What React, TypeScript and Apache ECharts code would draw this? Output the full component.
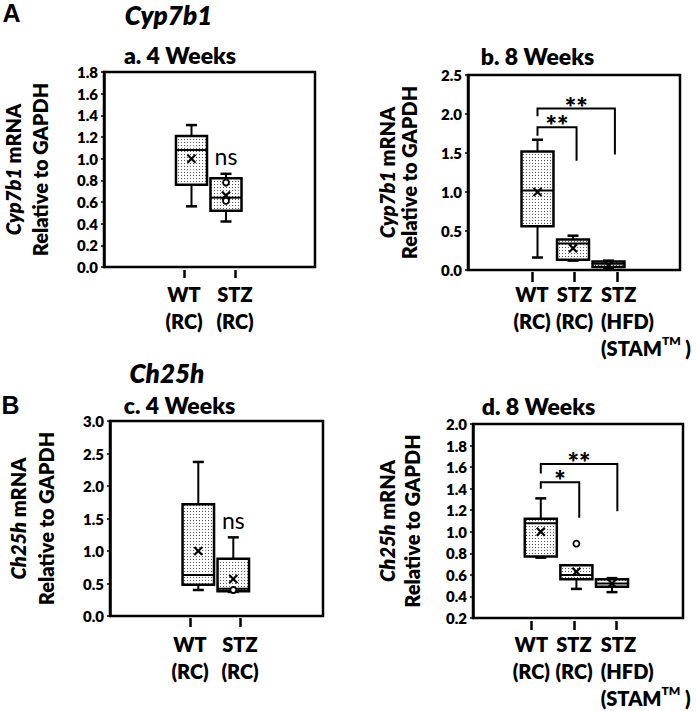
import React, { useEffect, useRef } from 'react';
import * as echarts from 'echarts';

const FONT = 'Lato, "Open Sans", "DejaVu Sans", sans-serif';
const LETTER_FONT = '"Liberation Sans", Arial, sans-serif';
const W = 800;

// ---------- categories (x tick labels, one array per line) ----------
const GROUP_LINES_4WK = [['WT', '(RC)'], ['STZ', '(RC)']];
const GROUP_LINES_8WK = [['WT', '(RC)'], ['STZ', '(RC)'], ['STZ', '(HFD)', '(STAM™ )']];

// ---------- box statistics: [low whisker, Q1, median, Q3, high whisker, mean] ----------
const CYP7B1_4WK_WT = [0.56, 0.76, 1.08, 1.21, 1.31, 1.0];
const CYP7B1_4WK_STZ = [0.42, 0.52, 0.64, 0.82, 0.86, 0.66];
const CYP7B1_8WK_WT = [0.16, 0.56, 1.02, 1.52, 1.67, 1.0];
const CYP7B1_8WK_STZ = [0.12, 0.13, 0.34, 0.39, 0.44, 0.28];
const CYP7B1_8WK_STAM = [0.01, 0.04, 0.08, 0.11, 0.12, 0.06];
const CH25H_4WK_WT = [0.40, 0.48, 0.63, 1.72, 2.37, 1.0];
const CH25H_4WK_STZ = [0.37, 0.38, 0.42, 0.88, 1.21, 0.57];
const CH25H_8WK_WT = [0.76, 0.77, 1.08, 1.12, 1.31, 1.0];
const CH25H_8WK_STZ = [0.47, 0.56, 0.60, 0.69, 0.69, 0.63];
const CH25H_8WK_STAM = [0.44, 0.49, 0.52, 0.56, 0.57, 0.52];

// individual points drawn as circles: [group index, value]
const CYP7B1_4WK_POINTS = [[1, 0.78], [1, 0.61]];
const CH25H_4WK_POINTS = [[1, 0.40]];
const CH25H_8WK_POINTS = [[1, 0.89]];

// significance brackets: [from x, to x, bracket top, left leg end, right leg end]
const CYP7B1_8WK_BRACKETS = [[0, 1.1, 1.83, 1.72, 1.40], [0, 2.18, 2.07, 1.97, 1.48]];
const CYP7B1_8WK_BRACKET_LABELS = ['**', '**'];
const CH25H_8WK_BRACKETS = [[0, 1.08, 1.46, 1.40, 1.13], [0, 2.15, 1.63, 1.54, 1.19]];
const CH25H_8WK_BRACKET_LABELS = ['*', '**'];

// "ns" annotations: group index above whose top whisker the label sits
const NS_GROUPS = [1];

// y axis ticks
const Y_A = { min: 0, max: 1.8, interval: 0.2 };
const Y_B = { min: 0, max: 2.5, interval: 0.5 };
const Y_C = { min: 0, max: 3.0, interval: 0.5 };
const Y_D = { min: 0.2, max: 2.0, interval: 0.2 };

const BOX_W = 0.9;
const CAP = 5.5;

function makePattern() {
  const cv = document.createElement('canvas');
  cv.width = 3;
  cv.height = 3;
  const ctx = cv.getContext('2d')!;
  ctx.fillStyle = '#ffffff';
  ctx.fillRect(0, 0, 3, 3);
  ctx.fillStyle = '#555555';
  ctx.fillRect(1, 1, 1, 1);
  return { image: cv, repeat: 'repeat', imageWidth: 3, imageHeight: 3 };
}

function buildOption(pattern: any) {
  const ln = (x1: number, y1: number, x2: number, y2: number, lw = 2) => ({
    type: 'line',
    shape: { x1, y1, x2, y2 },
    style: { stroke: '#000', lineWidth: lw },
  });

  const renderBox = (params: any, api: any) => {
    const x = api.value(0);
    const low = api.value(1), q1 = api.value(2), med = api.value(3), q3 = api.value(4), high = api.value(5), mean = api.value(6);
    const c = (v: number) => api.coord([x, v]);
    const cx = c(med)[0];
    const w = api.size([BOX_W, 0])[0];
    const yLow = c(low)[1], yQ1 = c(q1)[1], yMed = c(med)[1], yQ3 = c(q3)[1], yHigh = c(high)[1], yMean = c(mean)[1];
    const children: any[] = [];
    if (high > q3) children.push(ln(cx, yQ3, cx, yHigh), ln(cx - CAP, yHigh, cx + CAP, yHigh, 2.5));
    if (low < q1) children.push(ln(cx, yQ1, cx, yLow), ln(cx - CAP, yLow, cx + CAP, yLow, 2.5));
    children.push({
      type: 'rect',
      shape: { x: cx - w / 2, y: yQ3, width: w, height: yQ1 - yQ3 },
      style: { fill: pattern, stroke: '#000', lineWidth: 2.5 },
    });
    children.push(ln(cx - w / 2, yMed, cx + w / 2, yMed));
    const m = 4;
    children.push(ln(cx - m, yMean - m, cx + m, yMean + m, 2.2), ln(cx - m, yMean + m, cx + m, yMean - m, 2.2));
    return { type: 'group', children };
  };

  const renderBracket = (labels: string[]) => (params: any, api: any) => {
    const x1 = api.value(0), x2 = api.value(1), top = api.value(2), e1 = api.value(3), e2 = api.value(4);
    const t1 = api.coord([x1, top]);
    const t2 = api.coord([x2, top]);
    const b1 = api.coord([x1, e1]);
    const b2 = api.coord([x2, e2]);
    return {
      type: 'group',
      children: [
        {
          type: 'polyline',
          shape: { points: [b1, t1, t2, b2] },
          style: { stroke: '#000', lineWidth: 2, fill: null },
        },
        {
          type: 'text',
          x: (t1[0] + t2[0]) / 2,
          y: t1[1] + 11,
          style: { text: labels[params.dataIndex], align: 'center', verticalAlign: 'bottom', font: `${W} 27px ${FONT}`, fill: '#000' },
        },
      ],
    };
  };

  const renderNs = (params: any, api: any) => {
    const p = api.coord([api.value(0), api.value(1)]);
    return {
      type: 'text',
      x: p[0],
      y: p[1] - 6,
      style: { text: 'ns', align: 'center', verticalAlign: 'bottom', font: `23px ${FONT}`, fill: '#000' },
    };
  };

  const panels = [
    {
      grid: { left: 104, top: 72, width: 211, height: 195 },
      xRange: [-2.536, 3.58], y: Y_A, gene: 'Cyp7b1', nameGap: 50.5, nameLH: 27,
      boxes: [CYP7B1_4WK_WT, CYP7B1_4WK_STZ], points: CYP7B1_4WK_POINTS,
      brackets: [] as number[][], bracketLabels: [] as string[], ns: true,
      lines: GROUP_LINES_4WK, labelGrid: { left: 158.5, top: 255, width: 102, height: 15 }, tickLen: 8, labelMargin: 10,
    },
    {
      grid: { left: 468, top: 75, width: 212, height: 195 },
      xRange: [-1.958, 4.014], y: Y_B, gene: 'Cyp7b1', nameGap: 48.5, nameLH: 22,
      boxes: [CYP7B1_8WK_WT, CYP7B1_8WK_STZ, CYP7B1_8WK_STAM], points: [] as number[][],
      brackets: CYP7B1_8WK_BRACKETS, bracketLabels: CYP7B1_8WK_BRACKET_LABELS, ns: false,
      lines: GROUP_LINES_8WK, labelGrid: { left: 510.75, top: 257, width: 127.5, height: 15 }, tickLen: 10, labelMargin: 8.5,
    },
    {
      grid: { left: 110, top: 421, width: 213, height: 195 },
      xRange: [-2.523, 3.563], y: Y_C, gene: 'Ch25h', nameGap: 50, nameLH: 28,
      boxes: [CH25H_4WK_WT, CH25H_4WK_STZ], points: CH25H_4WK_POINTS,
      brackets: [] as number[][], bracketLabels: [] as string[], ns: true,
      lines: GROUP_LINES_4WK, labelGrid: { left: 165, top: 603, width: 100, height: 15 }, tickLen: 9, labelMargin: 12,
    },
    {
      grid: { left: 473, top: 424, width: 210, height: 194 },
      xRange: [-1.904, 3.994], y: Y_D, gene: 'Ch25h', nameGap: 48.5, nameLH: 25,
      boxes: [CH25H_8WK_WT, CH25H_8WK_STZ, CH25H_8WK_STAM], points: CH25H_8WK_POINTS,
      brackets: CH25H_8WK_BRACKETS, bracketLabels: CH25H_8WK_BRACKET_LABELS, ns: false,
      lines: GROUP_LINES_8WK, labelGrid: { left: 510, top: 606, width: 128, height: 15 }, tickLen: 9, labelMargin: 9,
    },
  ];

  const grid: any[] = [];
  const xAxis: any[] = [];
  const yAxis: any[] = [];
  const series: any[] = [];

  panels.forEach((p, i) => {
    grid.push({
      ...p.grid,
      show: true,
      borderColor: '#000',
      borderWidth: 2.5,
      backgroundColor: 'transparent',
      containLabel: false,
      outerBoundsMode: 'none',
    });
    xAxis.push({ gridIndex: i, type: 'value', min: p.xRange[0], max: p.xRange[1], show: false });
    yAxis.push({
      gridIndex: i,
      type: 'value',
      min: p.y.min,
      max: p.y.max,
      interval: p.y.interval,
      axisLine: { show: true, onZero: false, lineStyle: { color: '#000', width: 2.5 } },
      axisTick: { show: true, length: 3, lineStyle: { color: '#000', width: 1.5 } },
      splitLine: { show: false },
      axisLabel: {
        fontFamily: FONT, fontWeight: W, fontSize: 15, color: '#000', margin: 6,
        formatter: (v: number) => v.toFixed(1),
      },
      name: `{i|${p.gene}} mRNA\nRelative to GAPDH`,
      nameLocation: 'middle',
      nameRotate: 90,
      nameGap: p.nameGap,
      nameMoveOverlap: false,
      nameTextStyle: {
        fontFamily: FONT, fontWeight: W, fontSize: 20, color: '#000', lineHeight: p.nameLH,
        rich: { i: { fontFamily: FONT, fontWeight: W, fontStyle: 'italic', fontSize: 20, color: '#000', lineHeight: p.nameLH } },
      },
    });
    series.push({
      type: 'custom',
      xAxisIndex: i,
      yAxisIndex: i,
      renderItem: renderBox,
      data: p.boxes.map((b, gi) => [gi, ...b]),
      z: 3,
    });
    if (p.points.length) {
      series.push({
        type: 'scatter',
        xAxisIndex: i,
        yAxisIndex: i,
        data: p.points,
        symbol: 'circle',
        symbolSize: 6,
        itemStyle: { color: '#fff', borderColor: '#000', borderWidth: 1.8, opacity: 1 },
        z: 4,
      });
    }
    if (p.brackets.length) {
      series.push({
        type: 'custom',
        xAxisIndex: i,
        yAxisIndex: i,
        renderItem: renderBracket(p.bracketLabels),
        data: p.brackets,
        z: 3,
      });
    }
    if (p.ns) {
      series.push({
        type: 'custom',
        xAxisIndex: i,
        yAxisIndex: i,
        renderItem: renderNs,
        data: NS_GROUPS.map((g) => [g, p.boxes[g][4]]),
        z: 3,
      });
    }
  });

  // label grids (x tick labels under each panel)
  panels.forEach((p, i) => {
    const gi = panels.length + i;
    grid.push({ ...p.labelGrid, show: false, containLabel: false, outerBoundsMode: 'none' });
    yAxis.push({ gridIndex: gi, type: 'value', show: false, min: 0, max: 1 });
    const names = p.lines.map((l) => l.join(' '));
    xAxis.push({
      gridIndex: gi,
      type: 'category',
      position: 'bottom',
      data: names.map((n, k) =>
        p.lines[k].length > 2 ? { value: n, textStyle: { width: 100, padding: [0, 0, 0, 68] } } : n
      ),
      axisLine: { show: false },
      splitLine: { show: false },
      axisTick: { show: true, alignWithLabel: true, length: p.tickLen, lineStyle: { color: '#000', width: 2.5 } },
      axisLabel: {
        interval: 0,
        margin: p.labelMargin,
        color: '#000',
        fontFamily: FONT,
        fontWeight: W,
        fontSize: 20,
        lineHeight: 27,
        formatter: (v: string, idx: number) => {
          const lines = p.lines[idx];
          const tag = lines.length > 2 ? 'l' : 'c';
          return lines
            .map((s) => `{${tag}|${s.replace('™', `}{s|TM}{${tag}|`)}}`)
            .join('\n');
        },
        rich: {
          c: { fontFamily: FONT, fontWeight: W, fontSize: 20, lineHeight: 27, color: '#000' },
          l: { fontFamily: FONT, fontWeight: W, fontSize: 20, lineHeight: 27, color: '#000', align: 'left' },
          s: { fontFamily: FONT, fontWeight: W, fontSize: 12, lineHeight: 18, color: '#000', align: 'left', verticalAlign: 'top' },
        },
      },
    });
  });

  const txt = (text: string, x: number, y: number, font: string) => ({
    type: 'text',
    x,
    y,
    style: { text, font, fill: '#000', align: 'center', verticalAlign: 'middle' },
  });

  const graphic = [
    txt('A', 11.5, 13, `bold 25px ${LETTER_FONT}`),
    txt('B', 10.5, 405, `bold 25px ${LETTER_FONT}`),
    txt('Cyp7b1', 168.5, 15, `italic ${W} 26px ${FONT}`),
    txt('Ch25h', 167, 373, `italic ${W} 26px ${FONT}`),
    txt('a. 4 Weeks', 180, 55, `${W} 23px ${FONT}`),
    txt('b. 8 Weeks', 537.5, 56, `${W} 23px ${FONT}`),
    txt('c. 4 Weeks', 179.5, 405, `${W} 23px ${FONT}`),
    txt('d. 8 Weeks', 538.5, 406, `${W} 23px ${FONT}`),
  ];

  return {
    animation: false,
    backgroundColor: '#fff',
    textStyle: { fontFamily: FONT },
    grid,
    xAxis,
    yAxis,
    series,
    graphic,
  };
}

export default function App() {
  const ref = useRef<HTMLDivElement>(null);
  useEffect(() => {
    if (!ref.current) return;
    const chart = echarts.init(ref.current, undefined, { renderer: 'svg' });
    chart.setOption(buildOption(makePattern()) as any);
    return () => chart.dispose();
  }, []);
  return (
    <div
      ref={ref}
      style={{ position: 'absolute', left: 0, top: 0, width: 697, height: 711, background: '#fff' }}
    />
  );
}
